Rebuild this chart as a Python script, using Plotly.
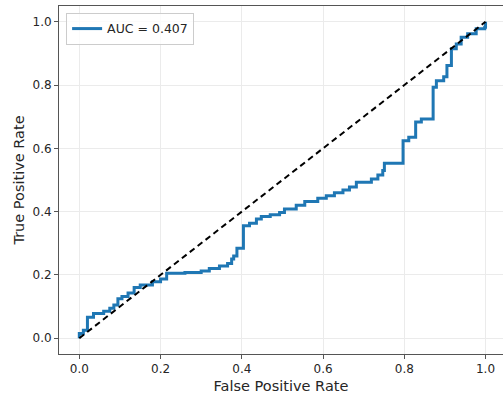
import plotly.graph_objects as go

fpr = [0.0, 0.0, 0.01, 0.02, 0.035, 0.06, 0.075, 0.085, 0.095, 0.105, 0.12, 0.135, 0.15,
       0.18, 0.2, 0.215, 0.26, 0.30, 0.32, 0.345, 0.365, 0.375, 0.38, 0.388, 0.404,
       0.419, 0.436, 0.448, 0.47, 0.493, 0.505, 0.534, 0.555, 0.587, 0.608, 0.628,
       0.649, 0.665, 0.682, 0.719, 0.735, 0.747, 0.751, 0.797, 0.811, 0.828, 0.842,
       0.871, 0.879, 0.897, 0.905, 0.916, 0.928, 0.94, 0.956, 0.977, 0.998, 1.0]
tpr = [0.0, 0.015, 0.025, 0.066, 0.078, 0.085, 0.095, 0.105, 0.125, 0.132, 0.143, 0.16, 0.168,
       0.178, 0.187, 0.205, 0.208, 0.212, 0.22, 0.228, 0.236, 0.25, 0.26, 0.284, 0.355,
       0.363, 0.377, 0.385, 0.39, 0.397, 0.408, 0.42, 0.432, 0.442, 0.45, 0.46,
       0.468, 0.478, 0.493, 0.503, 0.516, 0.53, 0.553, 0.624, 0.635, 0.683, 0.693,
       0.793, 0.814, 0.826, 0.862, 0.915, 0.93, 0.951, 0.962, 0.978, 0.983, 1.0]
auc_label = "AUC = 0.407"
diag = [0.0, 1.0]
ticks = [0.0, 0.2, 0.4, 0.6, 0.8, 1.0]
tick_text = ["0.0", "0.2", "0.4", "0.6", "0.8", "1.0"]

fig = go.Figure()
fig.add_trace(go.Scatter(x=fpr, y=tpr, mode="lines", line=dict(color="#1f77b4", width=3, shape="hv"),
                         name=auc_label))
fig.add_trace(go.Scatter(x=diag, y=diag, mode="lines", line=dict(color="black", width=2, dash="6px,4px"),
                         showlegend=False))

axis_common = dict(
    showgrid=True, gridcolor="#ebebeb", gridwidth=1,
    showline=True, linecolor="#555555", linewidth=1,
    ticks="outside", ticklen=4, tickcolor="#555555",
    tickfont=dict(family="DejaVu Sans", size=12, color="#262626"),
    zeroline=False, tickvals=ticks, ticktext=tick_text,
)
fig.update_xaxes(range=[-0.05, 1.043], mirror=True,
                 title=dict(text="False Positive Rate", font=dict(family="DejaVu Sans", size=14.5, color="#262626"),
                            standoff=5), **axis_common)
fig.update_yaxes(range=[-0.05, 1.05], mirror=False,
                 title=dict(text="True Positive Rate", font=dict(family="DejaVu Sans", size=14.5, color="#262626"),
                            standoff=4), **axis_common)

fig.update_layout(
    width=503, height=396,
    margin=dict(l=59, r=0, t=6, b=42),
    plot_bgcolor="white", paper_bgcolor="white",
    legend=dict(x=0.016, y=0.98, xanchor="left", yanchor="top",
                bgcolor="rgba(255,255,255,0.8)", bordercolor="#cccccc", borderwidth=1,
                font=dict(family="DejaVu Sans", size=12.5, color="#262626")),
)
fig.write_html("out.html")
